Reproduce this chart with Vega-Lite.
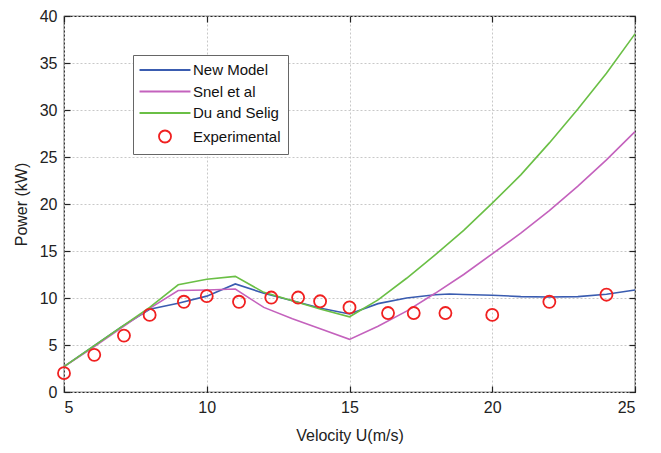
{
  "$schema": "https://vega.github.io/schema/vega-lite/v6.json",
  "width": 571,
  "height": 376,
  "autosize": {"type": "none"},
  "padding": {"left": 64, "top": 16, "right": 26, "bottom": 61},
  "background": "white",
  "config": {
    "view": {"stroke": "#222", "strokeWidth": 1.2},
    "font": "Liberation Sans",
    "axis": {
      "domain": false,
      "tickColor": "#222",
      "tickSize": -6,
      "tickWidth": 1.2,
      "labelPadding": 13,
      "labelFont": "Liberation Sans",
      "labelFontSize": 16,
      "labelColor": "#222",
      "titleFont": "Liberation Sans",
      "titleFontSize": 16,
      "titleFontWeight": "normal",
      "titleColor": "#222",
      "gridColor": "#c8c8c8",
      "gridDash": [2, 2],
      "gridWidth": 1
    },
    "legend": {
      "orient": "none",
      "legendX": 69,
      "legendY": 39,
      "title": null,
      "fillColor": "white",
      "strokeColor": "#666",
      "padding": 7,
      "rowPadding": 5.5,
      "labelFont": "Liberation Sans",
      "labelFontSize": 15,
      "labelColor": "#111",
      "symbolOffset": 17,
      "labelOffset": 20,
      "symbolSize": 196,
      "symbolStrokeWidth": 1.8
    }
  },
  "data": {
    "values": [
      {"u": 5, "p": 2.7, "series": "New Model"},
      {"u": 6, "p": 4.8, "series": "New Model"},
      {"u": 7, "p": 6.9, "series": "New Model"},
      {"u": 8, "p": 8.8, "series": "New Model"},
      {"u": 9, "p": 9.45, "series": "New Model"},
      {"u": 10, "p": 10.2, "series": "New Model"},
      {"u": 11, "p": 11.5, "series": "New Model"},
      {"u": 12, "p": 10.5, "series": "New Model"},
      {"u": 13, "p": 9.7, "series": "New Model"},
      {"u": 14, "p": 8.9, "series": "New Model"},
      {"u": 15, "p": 8.3, "series": "New Model"},
      {"u": 16, "p": 9.4, "series": "New Model"},
      {"u": 17, "p": 10.0, "series": "New Model"},
      {"u": 18, "p": 10.35, "series": "New Model"},
      {"u": 18.5, "p": 10.42, "series": "New Model"},
      {"u": 19, "p": 10.38, "series": "New Model"},
      {"u": 20, "p": 10.3, "series": "New Model"},
      {"u": 21, "p": 10.15, "series": "New Model"},
      {"u": 22, "p": 10.1, "series": "New Model"},
      {"u": 23, "p": 10.15, "series": "New Model"},
      {"u": 24, "p": 10.4, "series": "New Model"},
      {"u": 25, "p": 10.85, "series": "New Model"},
      {"u": 5, "p": 2.7, "series": "Snel et al"},
      {"u": 6, "p": 4.7, "series": "Snel et al"},
      {"u": 7, "p": 6.8, "series": "Snel et al"},
      {"u": 8, "p": 8.9, "series": "Snel et al"},
      {"u": 9, "p": 10.8, "series": "Snel et al"},
      {"u": 10, "p": 10.85, "series": "Snel et al"},
      {"u": 11, "p": 10.95, "series": "Snel et al"},
      {"u": 12, "p": 9.0, "series": "Snel et al"},
      {"u": 13, "p": 7.8, "series": "Snel et al"},
      {"u": 14, "p": 6.7, "series": "Snel et al"},
      {"u": 15, "p": 5.6, "series": "Snel et al"},
      {"u": 16, "p": 7.0, "series": "Snel et al"},
      {"u": 17, "p": 8.6, "series": "Snel et al"},
      {"u": 18, "p": 10.5, "series": "Snel et al"},
      {"u": 19, "p": 12.5, "series": "Snel et al"},
      {"u": 20, "p": 14.7, "series": "Snel et al"},
      {"u": 21, "p": 16.9, "series": "Snel et al"},
      {"u": 22, "p": 19.3, "series": "Snel et al"},
      {"u": 23, "p": 21.9, "series": "Snel et al"},
      {"u": 24, "p": 24.7, "series": "Snel et al"},
      {"u": 25, "p": 27.7, "series": "Snel et al"},
      {"u": 5, "p": 2.7, "series": "Du and Selig"},
      {"u": 6, "p": 4.8, "series": "Du and Selig"},
      {"u": 7, "p": 6.9, "series": "Du and Selig"},
      {"u": 8, "p": 9.0, "series": "Du and Selig"},
      {"u": 9, "p": 11.4, "series": "Du and Selig"},
      {"u": 10, "p": 12.0, "series": "Du and Selig"},
      {"u": 11, "p": 12.3, "series": "Du and Selig"},
      {"u": 12, "p": 10.6, "series": "Du and Selig"},
      {"u": 13, "p": 9.7, "series": "Du and Selig"},
      {"u": 14, "p": 8.8, "series": "Du and Selig"},
      {"u": 15, "p": 8.0, "series": "Du and Selig"},
      {"u": 16, "p": 9.8, "series": "Du and Selig"},
      {"u": 17, "p": 12.1, "series": "Du and Selig"},
      {"u": 18, "p": 14.6, "series": "Du and Selig"},
      {"u": 19, "p": 17.2, "series": "Du and Selig"},
      {"u": 20, "p": 20.1, "series": "Du and Selig"},
      {"u": 21, "p": 23.1, "series": "Du and Selig"},
      {"u": 22, "p": 26.5, "series": "Du and Selig"},
      {"u": 23, "p": 30.1, "series": "Du and Selig"},
      {"u": 24, "p": 33.9, "series": "Du and Selig"},
      {"u": 25, "p": 38.1, "series": "Du and Selig"},
      {"u": 5, "p": 2.0, "series": "Experimental"},
      {"u": 6.06, "p": 3.95, "series": "Experimental"},
      {"u": 7.1, "p": 6.0, "series": "Experimental"},
      {"u": 8.0, "p": 8.2, "series": "Experimental"},
      {"u": 9.2, "p": 9.6, "series": "Experimental"},
      {"u": 10.0, "p": 10.2, "series": "Experimental"},
      {"u": 11.13, "p": 9.6, "series": "Experimental"},
      {"u": 12.26, "p": 10.05, "series": "Experimental"},
      {"u": 13.2, "p": 10.05, "series": "Experimental"},
      {"u": 13.97, "p": 9.65, "series": "Experimental"},
      {"u": 15.0, "p": 9.0, "series": "Experimental"},
      {"u": 16.35, "p": 8.4, "series": "Experimental"},
      {"u": 17.25, "p": 8.4, "series": "Experimental"},
      {"u": 18.36, "p": 8.4, "series": "Experimental"},
      {"u": 20.0, "p": 8.2, "series": "Experimental"},
      {"u": 22.0, "p": 9.6, "series": "Experimental"},
      {"u": 24.0, "p": 10.35, "series": "Experimental"}
    ]
  },
  "layer": [
    {
      "transform": [{"filter": "datum.series !== 'Experimental'"}],
      "mark": {"type": "line", "strokeWidth": 1.6},
      "encoding": {
        "x": {"field": "u", "type": "quantitative", "scale": {"domain": [5, 25], "nice": false},
              "axis": {"title": "Velocity U(m/s)", "values": [5, 10, 15, 20, 25], "grid": true, "titlePadding": 12}},
        "y": {"field": "p", "type": "quantitative", "scale": {"domain": [0, 40], "nice": false},
              "axis": {"title": "Power (kW)", "values": [0, 5, 10, 15, 20, 25, 30, 35, 40], "grid": true, "titlePadding": 10}},
        "color": {"field": "series", "type": "nominal",
                  "scale": {"domain": ["New Model", "Snel et al", "Du and Selig", "Experimental"],
                            "range": ["#3a5cb0", "#c462bd", "#6abf45", "#f02020"]},
                  "legend": {"title": null}}
      }
    },
    {
      "transform": [{"filter": "datum.series === 'Experimental'"}],
      "mark": {"type": "point", "filled": false, "strokeWidth": 1.8, "size": 196, "opacity": 1},
      "encoding": {
        "x": {"field": "u", "type": "quantitative", "scale": {"domain": [5, 25], "nice": false},
              "axis": {"orient": "top", "labels": false, "title": null, "grid": false, "values": [5, 10, 15, 20, 25]}},
        "y": {"field": "p", "type": "quantitative", "scale": {"domain": [0, 40], "nice": false},
              "axis": {"orient": "right", "labels": false, "title": null, "grid": false, "values": [0, 5, 10, 15, 20, 25, 30, 35, 40]}},
        "color": {"field": "series", "type": "nominal",
                  "scale": {"domain": ["New Model", "Snel et al", "Du and Selig", "Experimental"],
                            "range": ["#3a5cb0", "#c462bd", "#6abf45", "#f02020"]},
                  "legend": {"title": null}},
        "shape": {"field": "series", "type": "nominal",
                  "scale": {"domain": ["New Model", "Snel et al", "Du and Selig", "Experimental"],
                            "range": ["M-3.64,0L3.64,0", "M-3.64,0L3.64,0", "M-3.64,0L3.64,0", "M-0.86,0A0.86,0.86 0 1,0 0.86,0A0.86,0.86 0 1,0 -0.86,0Z"]},
                  "legend": {"title": null}}
      }
    }
  ],
  "resolve": {"axis": {"x": "independent", "y": "independent"}}
}
